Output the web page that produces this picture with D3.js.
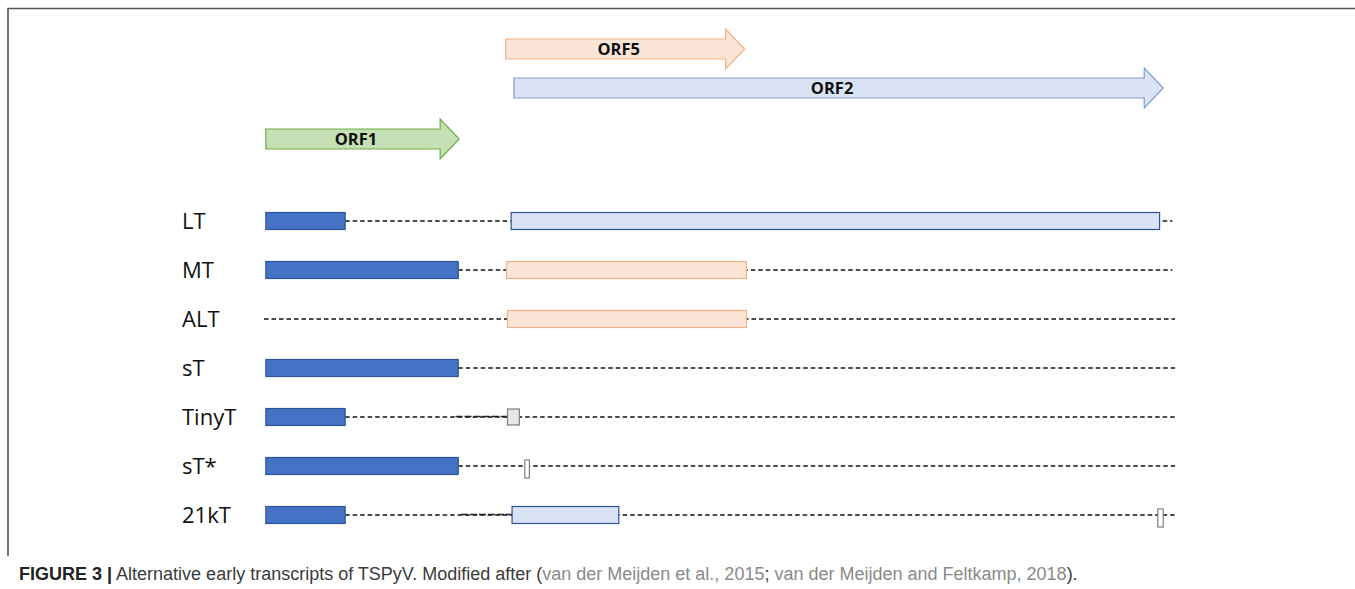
<!DOCTYPE html>
<html>
<head>
<meta charset="utf-8">
<script src="https://cdn.jsdelivr.net/npm/d3@7"></script>
<style>
  html, body { margin: 0; padding: 0; background: #fff; }
  svg { display: block; }
</style>
</head>
<body>
<svg id="chart" width="1355" height="589"></svg>
<script>
// ---- Data (genome position units 0..1000) ----
const orfNames  = ["ORF5", "ORF2", "ORF1"];
const orfStart  = [265, 274, 2];
const orfEnd    = [527, 986, 214];
const orfKind   = ["orf5", "orf2", "orf1"];

const transcripts = ["LT", "MT", "ALT", "sT", "TinyT", "sT*", "21kT"];
const lineStart   = [89, 213, 0, 213, 89, 213, 89];
const lineEnd     = [996, 996, 999, 999, 1000, 999, 1000];
// exons: [transcript, start, end, kind]
const exons = [
  ["LT", 2, 89, "orf1"], ["LT", 271, 982, "orf2"],
  ["MT", 2, 213, "orf1"], ["MT", 266, 529, "orf5"],
  ["ALT", 267, 529, "orf5"],
  ["sT", 2, 213, "orf1"],
  ["TinyT", 2, 89, "orf1"], ["TinyT", 267, 280, "grey"],
  ["sT*", 2, 213, "orf1"], ["sT*", 286, 291, "blank"],
  ["21kT", 2, 89, "orf1"], ["21kT", 272, 389, "orf2"], ["21kT", 980, 986, "blank"]
];
// overlapping splice segments drawn twice in the original
const overlaps = [["TinyT", 210, 267], ["21kT", 216, 272]];

const captionBold = "FIGURE 3 |";
const captionText = " Alternative early transcripts of TSPyV. Modified after ";
const cite1 = "van der Meijden et al., 2015";
const cite2 = "van der Meijden and Feltkamp, 2018";

// ---- Styles ----
const fills   = { orf1: "#4472C4", orf2: "#DAE3F3", orf5: "#FBE5D6", grey: "#E7E6E6", blank: "#FFFFFF" };
const strokes = { orf1: "#2F5597", orf2: "#2F5597", orf5: "#F4B183", grey: "#7F7F7F", blank: "#7F7F7F" };
const arrowFill   = { orf1: "#C5E0B4", orf2: "#DAE3F3", orf5: "#FBE5D6" };
const arrowStroke = { orf1: "#70AD47", orf2: "#7F9FCF", orf5: "#F4B183" };
const exonH = { orf1: 17, orf2: 17, orf5: 17, grey: 16, blank: 18 };

const svg = d3.select("#chart");
const x = d3.scaleLinear().domain([0, 1000]).range([264, 1176]);
const y = d3.scalePoint().domain(transcripts).range([221, 515]);
const arrowY = d3.scalePoint().domain(orfNames).range([49, 139]);
const arrowCenter = n => n === "ORF2" ? 88 : arrowY(n);

// frame
svg.append("path")
  .attr("d", "M8,556 L8,8.5 L1355,8.5")
  .attr("fill", "none").attr("stroke", "#555").attr("stroke-width", 1.6);

// ORF arrows
const bodyH = 20, headH = 40, headL = 19;
orfNames.forEach((n, i) => {
  const x0 = x(orfStart[i]), x1 = x(orfEnd[i]), cy = arrowCenter(n);
  const xb = x1 - headL;
  const pts = [[x0, cy - bodyH/2], [xb, cy - bodyH/2], [xb, cy - headH/2], [x1, cy],
               [xb, cy + headH/2], [xb, cy + bodyH/2], [x0, cy + bodyH/2]];
  svg.append("path")
    .attr("d", d3.line()(pts) + "Z")
    .attr("fill", arrowFill[orfKind[i]])
    .attr("stroke", arrowStroke[orfKind[i]])
    .attr("stroke-width", 1.2);
  svg.append("text")
    .attr("x", (x0 + xb) / 2 + 3).attr("y", cy + 6)
    .attr("text-anchor", "middle")
    .attr("font-family", "'Open Sans', sans-serif")
    .attr("font-weight", 700).attr("font-size", 16.5)
    .attr("fill", "#111")
    .text(n);
});

// transcript lines
transcripts.forEach((t, i) => {
  svg.append("line")
    .attr("x1", x(lineStart[i])).attr("x2", x(lineEnd[i]))
    .attr("y1", y(t)).attr("y2", y(t))
    .attr("stroke", "#111").attr("stroke-width", 1.5)
    .attr("stroke-dasharray", "4.5,3");
  svg.append("text")
    .attr("x", 182).attr("y", y(t) + 8)
    .attr("font-family", "'Open Sans', sans-serif")
    .attr("font-size", 22)
    .attr("fill", "#111")
    .text(t);
});

overlaps.forEach(([t, a, b]) => {
  svg.append("line")
    .attr("x1", x(a)).attr("x2", x(b))
    .attr("y1", y(t) - 0.5).attr("y2", y(t) - 0.5)
    .attr("stroke", "#222").attr("stroke-width", 1.6)
    .attr("stroke-dasharray", "7,2");
});

// exons
svg.selectAll("rect.exon").data(exons).enter().append("rect")
  .attr("class", "exon")
  .attr("x", d => x(d[1]))
  .attr("width", d => x(d[2]) - x(d[1]))
  .attr("y", d => y(d[0]) - exonH[d[3]] / 2 + (d[3] === "blank" ? 3 : 0))
  .attr("height", d => exonH[d[3]])
  .attr("fill", d => fills[d[3]])
  .attr("stroke", d => strokes[d[3]])
  .attr("stroke-width", 1.2);

// caption
const cap = svg.append("text")
  .attr("x", 19).attr("y", 580)
  .attr("font-family", "'Liberation Sans', Arial, sans-serif")
  .attr("font-size", 18)
  .attr("fill", "#3a3a3a");
cap.append("tspan").attr("font-weight", 700).attr("fill", "#222").text(captionBold);
cap.append("tspan").text(captionText + "(");
cap.append("tspan").attr("fill", "#8a8a8a").text(cite1);
cap.append("tspan").text("; ");
cap.append("tspan").attr("fill", "#8a8a8a").text(cite2);
cap.append("tspan").text(").");
</script>
</body>
</html>
